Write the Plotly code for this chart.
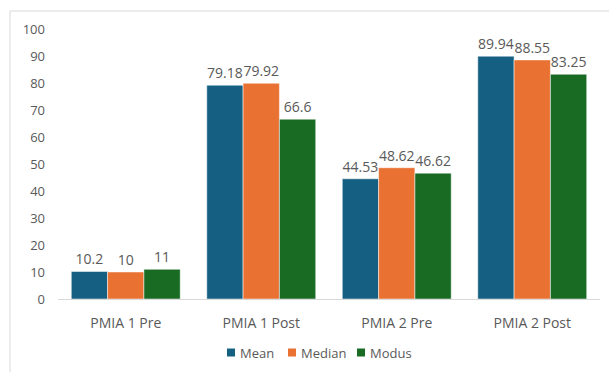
import plotly.graph_objects as go

categories = ["PMIA 1 Pre", "PMIA 1 Post", "PMIA 2 Pre", "PMIA 2 Post"]
mean_vals = [10.2, 79.18, 44.53, 89.94]
median_vals = [10, 79.92, 48.62, 88.55]
modus_vals = [11, 66.6, 46.62, 83.25]
series_names = ["Mean", "Median", "Modus"]
colors = ["#156082", "#E97132", "#196B24"]

FONT = "Open Sans, sans-serif"
GRAY = "#595959"

L, R, T, B = 58, 9, 29, 73
W, H = 609, 372
PW, PH = W - L - R, H - T - B

def px_x(x):
    return (x - L) / PW

def px_y(y):
    return (H - B - y) / PH

fig = go.Figure()
for name, vals, col in zip(series_names, [mean_vals, median_vals, modus_vals], colors):
    fig.add_trace(go.Bar(
        name=name, x=categories, y=vals,
        marker=dict(color=col, line=dict(color="white", width=0.5)),
        text=[str(v) for v in vals], textposition="outside",
        textfont=dict(color=GRAY, size=14, family=FONT),
        cliponaxis=False, showlegend=False,
    ))

# custom legend (compact, like the reference)
shapes = [dict(type="rect", xref="paper", yref="paper",
               x0=px_x(10), x1=1.3, y0=-1, y1=px_y(11),
               line=dict(color="#D9D9D9", width=1), fillcolor="rgba(0,0,0,0)", layer="below")]
annotations = []
legend_x = [227, 288, 357]
for name, col, lx in zip(series_names, colors, legend_x):
    shapes.append(dict(type="rect", xref="paper", yref="paper",
                       x0=px_x(lx), x1=px_x(lx + 8), y0=px_y(356.5), y1=px_y(348.5),
                       line=dict(width=0), fillcolor=col))
    annotations.append(dict(text=name, xref="paper", yref="paper",
                            x=px_x(lx + 11), y=px_y(352.5), xanchor="left", yanchor="middle",
                            showarrow=False, font=dict(size=13, color=GRAY, family=FONT)))

fig.update_layout(
    width=W, height=H,
    margin=dict(l=L, r=R, t=T, b=B),
    paper_bgcolor="white", plot_bgcolor="white",
    barmode="group", bargap=0.196, bargroupgap=0,
    font=dict(family=FONT, color=GRAY, size=13),
    showlegend=False,
    shapes=shapes, annotations=annotations,
)
fig.update_yaxes(range=[0, 100], dtick=10, showgrid=False, zeroline=False,
                 showline=False, ticks="", ticklabelstandoff=12,
                 tickfont=dict(size=13, color=GRAY, family=FONT))
fig.update_xaxes(showgrid=False, showline=True, linecolor="#D9D9D9", linewidth=1,
                 ticks="", ticklabelstandoff=11, tickfont=dict(size=14, color=GRAY, family=FONT))

fig.write_html("out.html")
